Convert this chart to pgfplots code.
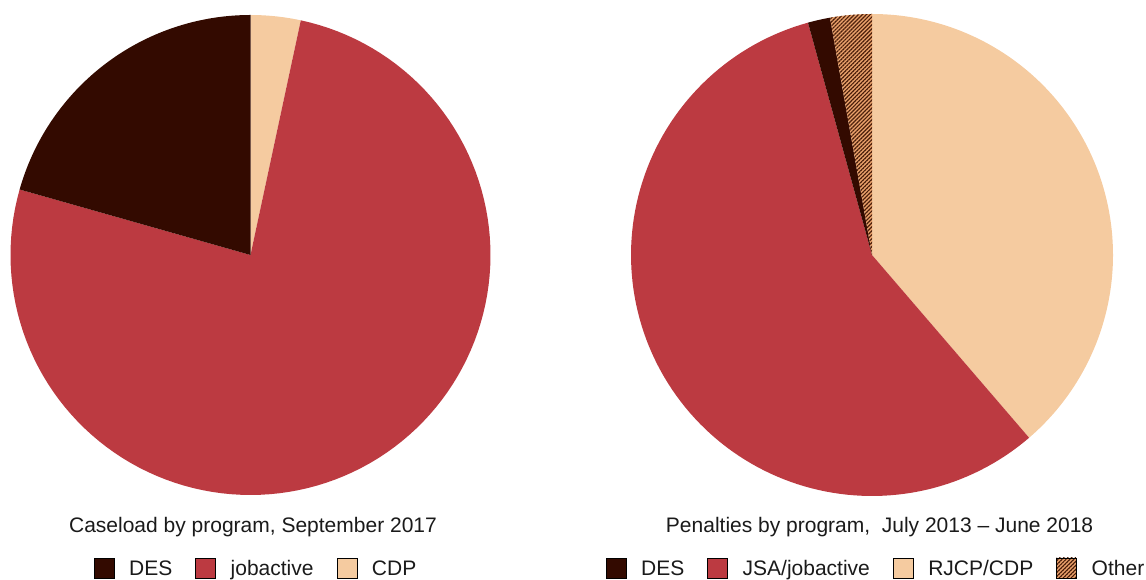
\documentclass[border=0pt]{standalone}
\usepackage{fontspec}
\setmainfont{Liberation Sans}
\usepackage{pgfplots}
\pgfplotsset{compat=1.18}
\usetikzlibrary{patterns.meta}
\definecolor{desc}{HTML}{330A00}
\definecolor{jobc}{HTML}{BC3A41}
\definecolor{cdpc}{HTML}{F5CBA0}
\definecolor{othbg}{HTML}{EBA26C}
\definecolor{othln}{HTML}{4A1E0A}
\definecolor{txt}{HTML}{1A1A1A}
\newcommand{\bigfont}{\fontsize{21pt}{25pt}\selectfont}
\pgfplotsset{
  piebase/.style={scale only axis, x=1pt, y=1pt, xmin=0, xmax=1146, ymin=0, ymax=580,
    hide axis, clip=false, at={(0pt,0pt)}, anchor=origin,
    legend columns=-1,
    legend image code/.code={\fill[##1] (0pt,-10pt) rectangle (20pt,10pt);},
    legend style={draw=none, fill=none, inner sep=0pt, outer sep=0pt, anchor=center,
      font=\bigfont, text=txt,
      nodes={inner sep=0pt, text height=15pt, text depth=0pt},
      /tikz/every odd column/.append style={column sep=15pt},
      /tikz/every even column/.append style={column sep=23pt}},
  },
  slice/.style={draw=none, samples=120, forget plot},
  hatch/.style={fill=othbg, postaction={pattern={Lines[angle=45,distance=2.8pt,line width=1.2pt]}, pattern color=othln}},
}
\begin{document}
\begin{tikzpicture}
\useasboundingbox (0,0) rectangle (1146pt,580pt);
\clip (0,0) rectangle (1146pt,580pt);
% ---------------- Left pie: Caseload by program, September 2017 ----------------
% shares (%), clockwise from 12 o'clock: CDP 3.36, jobactive 76.04, DES 20.60
\begin{axis}[piebase, legend style={at={(0.2225,0.0207)}}]
\addplot[slice, fill=cdpc, domain={90-3.6*3.36}:{90}] ({250.5+240*cos(x)},{325+240*sin(x)}) -- (axis cs:250.5,325) -- cycle;
\addplot[slice, fill=jobc, domain={90-3.6*79.40}:{90-3.6*3.36}] ({250.5+240*cos(x)},{325+240*sin(x)}) -- (axis cs:250.5,325) -- cycle;
\addplot[slice, fill=desc, domain={90-3.6*100}:{90-3.6*79.40}] ({250.5+240*cos(x)},{325+240*sin(x)}) -- (axis cs:250.5,325) -- cycle;
\addlegendimage{fill=desc}\addlegendentry{DES}
\addlegendimage{fill=jobc}\addlegendentry{jobactive}
\addlegendimage{fill=cdpc}\addlegendentry{CDP}
\node[anchor=base, font=\bigfont, text=txt] at (axis cs:253,47) {Caseload by program, September 2017};
\end{axis}
% ---------------- Right pie: Penalties by program, July 2013 - June 2018 ----------------
% shares (%), clockwise from 12 o'clock: RJCP/CDP 38.70, JSA/jobactive 57.02, DES 1.49, Other 2.79
\begin{axis}[piebase, legend style={at={(0.7635,0.0207)}}]
\addplot[slice, fill=cdpc, domain={90-3.6*38.70}:{90}] ({872+241*cos(x)},{325+241*sin(x)}) -- (axis cs:872,325) -- cycle;
\addplot[slice, fill=jobc, domain={90-3.6*95.72}:{90-3.6*38.70}] ({872+241*cos(x)},{325+241*sin(x)}) -- (axis cs:872,325) -- cycle;
\addplot[slice, fill=desc, domain={90-3.6*97.21}:{90-3.6*95.72}] ({872+241*cos(x)},{325+241*sin(x)}) -- (axis cs:872,325) -- cycle;
\addplot[slice, hatch, domain={90-3.6*100}:{90-3.6*97.21}] ({872+241*cos(x)},{325+241*sin(x)}) -- (axis cs:872,325) -- cycle;
\addlegendimage{fill=desc}\addlegendentry{DES}
\addlegendimage{fill=jobc}\addlegendentry{JSA/jobactive}
\addlegendimage{fill=cdpc}\addlegendentry{RJCP/CDP}
\addlegendimage{hatch}\addlegendentry{Other}
\node[anchor=base, font=\bigfont, text=txt] at (axis cs:879.6,47) {Penalties by program,\ \ July 2013 – June 2018};
\end{axis}
\end{tikzpicture}
\end{document}
